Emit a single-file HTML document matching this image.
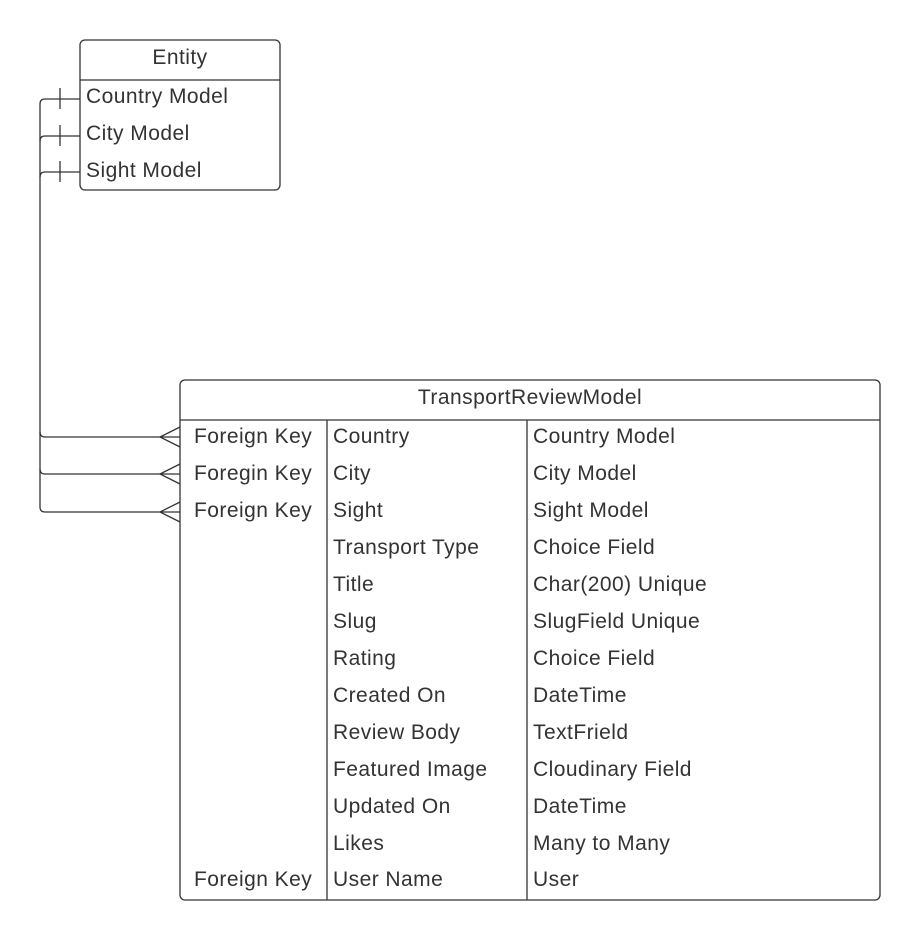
<!DOCTYPE html>
<html><head><style>
html,body{margin:0;padding:0;background:#fff;width:921px;height:941px;overflow:hidden}
svg text{font-family:"Liberation Sans",sans-serif;font-size:21px;letter-spacing:0.45px;fill:#333}
</style></head><body>
<svg width="921" height="941" viewBox="0 0 921 941">
<g fill="none" stroke="#333" stroke-width="1.3">
<rect x="80" y="40" width="200" height="150" rx="5"/>
<line x1="80" y1="80" x2="280" y2="80"/>
<rect x="180" y="380" width="700" height="520" rx="5"/>
<line x1="180" y1="420" x2="880" y2="420"/>
<line x1="327" y1="420" x2="327" y2="900"/>
<line x1="527" y1="420" x2="527" y2="900"/>
<path d="M80 99 H45 Q40 99 40 104 V507 Q40 512 45 512 H180"/>
<path d="M80 136 H45 Q40 136 40 141"/>
<path d="M80 172 H45 Q40 172 40 177"/>
<path d="M40 432 Q40 437 45 437 H180"/>
<path d="M40 469 Q40 474 45 474 H180"/>
<line x1="60" y1="88" x2="60" y2="109"/>
<line x1="60" y1="125" x2="60" y2="146"/>
<line x1="60" y1="161" x2="60" y2="182"/>
<path d="M180 427 L160 437 L180 447"/>
<path d="M180 464 L160 474 L180 484"/>
<path d="M180 502 L160 512 L180 522"/>
</g>
<text x="180" y="64" text-anchor="middle">Entity</text>
<text x="86" y="103">Country Model</text>
<text x="86" y="140">City Model</text>
<text x="86" y="177">Sight Model</text>
<text x="530" y="404" text-anchor="middle">TransportReviewModel</text>
<g>
<text x="194" y="443">Foreign Key</text>
<text x="194" y="480">Foregin Key</text>
<text x="194" y="517">Foreign Key</text>
<text x="194" y="886">Foreign Key</text>
<text x="333" y="443">Country</text><text x="533" y="443">Country Model</text>
<text x="333" y="480">City</text><text x="533" y="480">City Model</text>
<text x="333" y="517">Sight</text><text x="533" y="517">Sight Model</text>
<text x="333" y="554">Transport Type</text><text x="533" y="554">Choice Field</text>
<text x="333" y="591">Title</text><text x="533" y="591">Char(200) Unique</text>
<text x="333" y="628">Slug</text><text x="533" y="628">SlugField Unique</text>
<text x="333" y="665">Rating</text><text x="533" y="665">Choice Field</text>
<text x="333" y="702">Created On</text><text x="533" y="702">DateTime</text>
<text x="333" y="739">Review Body</text><text x="533" y="739">TextFrield</text>
<text x="333" y="776">Featured Image</text><text x="533" y="776">Cloudinary Field</text>
<text x="333" y="813">Updated On</text><text x="533" y="813">DateTime</text>
<text x="333" y="850">Likes</text><text x="533" y="850">Many to Many</text>
<text x="333" y="886">User Name</text><text x="533" y="886">User</text>
</g>
</svg>
</body></html>
